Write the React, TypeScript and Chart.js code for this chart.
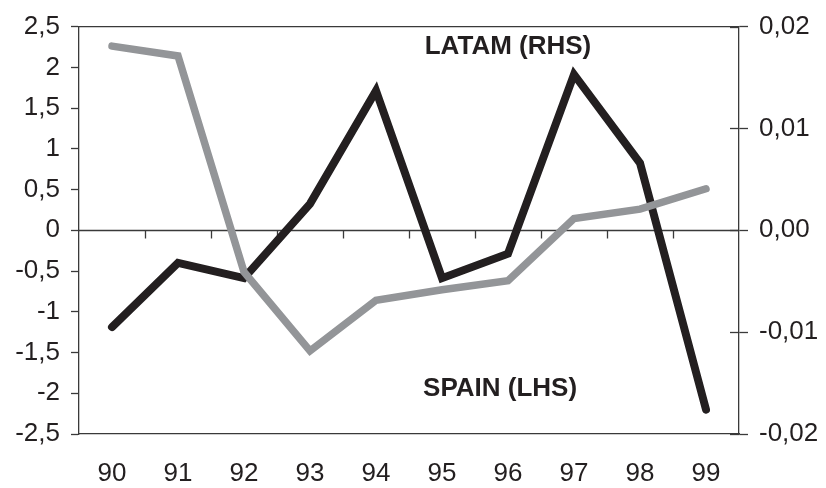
import React, { useEffect, useRef } from "react";
import { Chart, registerables } from "chart.js";
Chart.register(...registerables);

const years = ["90", "91", "92", "93", "94", "95", "96", "97", "98", "99"];
const spainLHS = [2.26, 2.14, -0.51, -1.48, -0.86, -0.73, -0.62, 0.145, 0.26, 0.51];
const latamRHS = [-0.0095, -0.0032, -0.0047, 0.0026, 0.0137, -0.0047, -0.0023, 0.0153, 0.0066, -0.0176];
const leftTicks = [-2.5, -2, -1.5, -1, -0.5, 0, 0.5, 1, 1.5, 2, 2.5];
const rightTicks = [-0.02, -0.01, 0, 0.01, 0.02];
const latamLabel = "LATAM (RHS)";
const spainLabel = "SPAIN (LHS)";

const INK = "#231f20";
const AXIS = "#3a3a3a";
const GREY = "#939598";
const FONT = "'Liberation Sans', Arial, sans-serif";

export default function App() {
  const ref = useRef<HTMLCanvasElement | null>(null);
  useEffect(() => {
    if (!ref.current) return;
    const decorations = {
      id: "decorations",
      beforeDatasetsDraw(chart: any) {
        const { ctx, chartArea: a, scales } = chart;
        const x = scales.x;
        const y = scales.y;
        ctx.save();
        ctx.strokeStyle = AXIS;
        ctx.lineWidth = 1.3;
        ctx.beginPath();
        ctx.moveTo(a.left, a.top);
        ctx.lineTo(a.right, a.top);
        ctx.stroke();
        const y0 = Math.round(y.getPixelForValue(0)) + 0.5;
        ctx.beginPath();
        ctx.moveTo(a.left, y0);
        ctx.lineTo(a.right, y0);
        ctx.stroke();
        const step = x.getPixelForValue(1) - x.getPixelForValue(0);
        for (let i = 1; i < years.length; i++) {
          const px = Math.round(x.getPixelForValue(i) - step / 2) + 0.5;
          ctx.beginPath();
          ctx.moveTo(px, y0);
          ctx.lineTo(px, y0 + 8);
          ctx.stroke();
        }
        const yr = scales.y1;
        for (const v of rightTicks) {
          const py = Math.round(yr.getPixelForValue(v)) + 0.5;
          ctx.beginPath();
          ctx.moveTo(a.right - 9, py);
          ctx.lineTo(a.right, py);
          ctx.stroke();
        }
        ctx.restore();
      },
      afterDatasetsDraw(chart: any) {
        const { ctx, scales } = chart;
        ctx.save();
        ctx.fillStyle = INK;
        ctx.font = `bold 26px ${FONT}`;
        ctx.textAlign = "center";
        ctx.textBaseline = "middle";
        ctx.fillText(latamLabel, scales.x.getPixelForValue(6), scales.y.getPixelForValue(2.25));
        ctx.fillText(spainLabel, scales.x.getPixelForValue(5.88), scales.y.getPixelForValue(-1.94));
        ctx.restore();
      },
    };

    const chart = new Chart(ref.current, {
      type: "line",
      data: {
        labels: years,
        datasets: [
          {
            label: "LATAM (RHS)",
            data: latamRHS,
            yAxisID: "y1",
            borderColor: INK,
            borderWidth: 8,
            pointRadius: 0,
            borderCapStyle: "round",
            borderJoinStyle: "miter",
            tension: 0,
            order: 2,
          },
          {
            label: "SPAIN (LHS)",
            data: spainLHS,
            yAxisID: "y",
            borderColor: GREY,
            borderWidth: 7.5,
            pointRadius: 0,
            borderCapStyle: "round",
            borderJoinStyle: "miter",
            tension: 0,
            order: 1,
          },
        ],
      },
      options: {
        animation: false,
        responsive: false,
        maintainAspectRatio: false,
        layout: { padding: { top: 21, right: 0, left: 0, bottom: 0 } },
        plugins: { legend: { display: false }, tooltip: { enabled: false } },
        scales: {
          x: {
            offset: true,
            grid: { display: false, drawTicks: false },
            border: { display: true, color: AXIS, width: 1.3 },
            ticks: { color: INK, font: { family: FONT, size: 26 }, padding: 24, maxRotation: 0 },
            afterFit(s: any) { s.height = 54; },
          },
          y: {
            position: "left",
            min: -2.5,
            max: 2.5,
            afterBuildTicks(s: any) { s.ticks = leftTicks.map((v) => ({ value: v })); },
            grid: { drawOnChartArea: false, drawTicks: true, tickLength: 8, color: AXIS, tickWidth: 1.3 },
            border: { display: true, color: AXIS, width: 1.3 },
            ticks: {
              color: INK,
              font: { family: FONT, size: 26 },
              padding: 11,
              callback: (v: any) => String(Math.round(Number(v) * 10) / 10).replace(".", ","),
            },
            afterFit(s: any) { s.width = 79; },
          },
          y1: {
            position: "right",
            min: -0.02,
            max: 0.02,
            afterBuildTicks(s: any) { s.ticks = rightTicks.map((v) => ({ value: v })); },
            grid: { drawOnChartArea: false, drawTicks: true, tickLength: 9, color: AXIS, tickWidth: 1.3 },
            border: { display: true, color: AXIS, width: 1.3 },
            ticks: {
              color: INK,
              font: { family: FONT, size: 26 },
              padding: 11,
              callback: (v: any) => {
                const n = Math.round(Number(v) * 100) / 100;
                return (n === 0 ? 0 : n).toFixed(2).replace(".", ",");
              },
            },
            afterFit(s: any) { s.width = 87; },
          },
        },
      },
      plugins: [decorations],
    } as any);
    return () => chart.destroy();
  }, []);

  return (
    <div style={{ position: "absolute", left: 0, top: 0, width: 826, height: 488, background: "#fff" }}>
      <canvas ref={ref} width={826} height={488} style={{ width: 826, height: 488 }} />
    </div>
  );
}
